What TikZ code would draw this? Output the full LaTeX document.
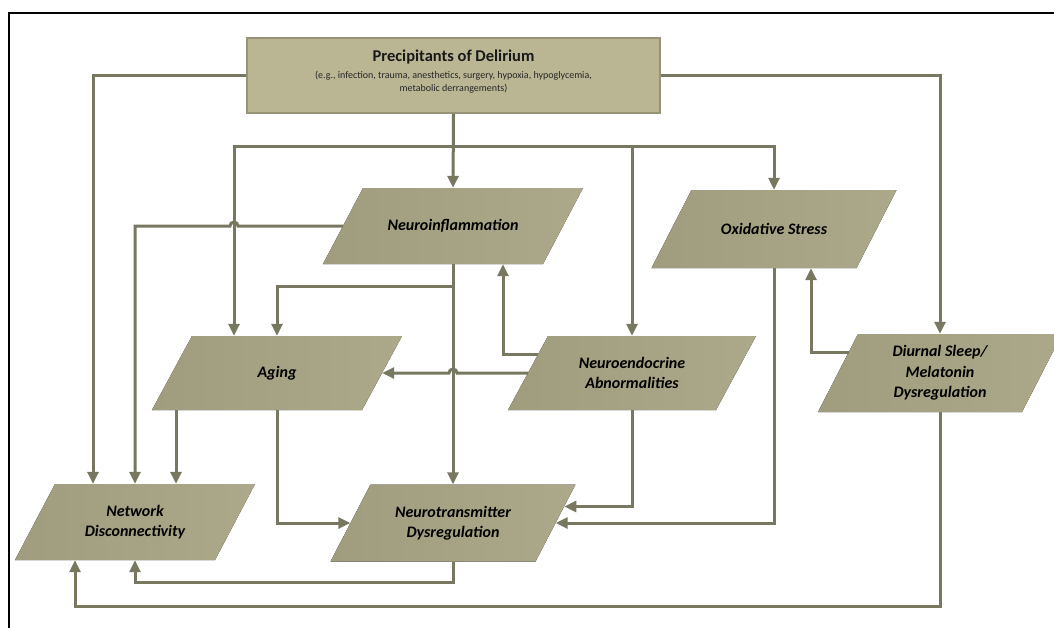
\documentclass[tikz,border=0pt]{standalone}
\usepackage{fontspec}
\setmainfont{Carlito}
\usetikzlibrary{arrows.meta,calc}
\definecolor{lc}{RGB}{120,120,96}
\definecolor{pf}{RGB}{172,169,138}
\definecolor{pfd}{RGB}{160,157,127}
\definecolor{bf}{RGB}{186,182,148}
\definecolor{bd}{RGB}{150,147,118}
\tikzset{
  ln/.style={draw=lc, line width=3pt},
  arr/.style={ln, -{Triangle[length=12pt,width=11pt]}},
  ptext/.style={inner sep=0pt, align=center, font=\fontsize{16}{20.5}\selectfont\bfseries\itshape, text=black},
}
\newcommand{\pbox}[6]{%
  \fill[left color=pfd, right color=pf] ({#2-#4/2+20},{#3-#5/2}) -- ({#2+#4/2+20},{#3-#5/2}) -- ({#2+#4/2-20},{#3+#5/2}) -- ({#2-#4/2-20},{#3+#5/2}) -- cycle;
  \node[ptext, minimum width=#4, minimum height=#5] (#1) at (#2,#3) {#6};
}
\begin{document}
\begin{tikzpicture}[x=1pt,y=-1pt]
\useasboundingbox (0,0) rectangle (1054,627);
\fill[white] (0,0) rectangle (1054,627);
\draw[black, line width=2.5pt] (9,640) -- (9,13) -- (1070,13);

% top box
\node[draw=bd, fill=bf, line width=1.5pt, minimum width=413, minimum height=75, inner sep=0] (pre) at (453.5,75.5) {};
\node[font=\fontsize{16.5}{18}\selectfont\bfseries, text=black!90, inner sep=0] (pretitle) at (453.5,57) {Precipitants of Delirium};
\node[font=\fontsize{10}{13}\selectfont, text=black!85, align=center, inner sep=0] (presub) at (453.5,82) {(e.g., infection, trauma, anesthetics, surgery, hypoxia, hypoglycemia,\\metabolic derrangements)};

% parallelograms
\pbox{ni}{453}{226}{220}{76}{Neuroinflammation}
\pbox{os}{774}{229}{205}{78}{Oxidative Stress}
\pbox{ne}{632}{373}{208}{74}{Neuroendocrine\\Abnormalities}
\pbox{dsm}{940}{373}{204}{78}{Diurnal Sleep/\\Melatonin\\Dysregulation}
\pbox{ag}{277}{373}{210}{74}{Aging}
\pbox{nd}{135}{522}{200}{76}{Network\\Disconnectivity}
\pbox{nt}{453}{523}{205}{77}{Neurotransmitter\\Dysregulation}

% helper coordinates
\coordinate (bus) at (453,146);
\coordinate (xa) at ($(ag.north)+(-43,0)$);
\coordinate (xp) at ($(nd.north)+(-42,0)$);
\coordinate (xg) at ($(ag.south)+(-101,0)$);
\coordinate (yb) at (0,606);

% from precipitants
\draw[arr] (pre.south) -- (ni.north);
\draw[arr] (bus) -| (xa |- ag.north);
\draw[arr] (bus) -| (os.north);
\draw[arr] (bus -| ne.north) -- (ne.north);
\draw[arr] (pre.west) -| (xp);
\draw[arr] (pre.east) -| (dsm.north);

% from neuroinflammation
\draw[arr] (ni.west) -- ($(ni.west -| xa)+(4,0)$) arc[start angle=0, end angle=-180, radius=4] -| (nd.north);
\draw[arr] (ni.south) -- (nt.north);
\draw[arr] ($(ni.south)+(0,22)$) -| (ag.north);

% from neuroendocrine
\draw[arr] ($(ne.west)+(10,-19)$) -| ($(ni.south)+(50,0)$);
\draw[arr] (ne.west) -- ($(ne.west -| ni.south)+(4,0)$) arc[start angle=0, end angle=-180, radius=4] -- (ag.east);
\draw[arr] (ne.south) |- ($(nt.east)+(8.6,-16.5)$);

% from oxidative stress
\draw[arr] (os.south) |- (nt.east);

% from diurnal sleep
\draw[arr] ($(dsm.west)+(10.8,-21)$) -| ($(os.south)+(37,0)$);
\draw[arr] (dsm.south) -- (dsm.south |- yb) -| ($(nd.south)+(-60,0)$);

% from aging
\draw[arr] (xg) -- (xg |- nd.north);
\draw[arr] (ag.south) |- (nt.west);

% from neurotransmitter
\draw[arr] (nt.south) -- ++(0,21) -| (nd.south);
\end{tikzpicture}
\end{document}
